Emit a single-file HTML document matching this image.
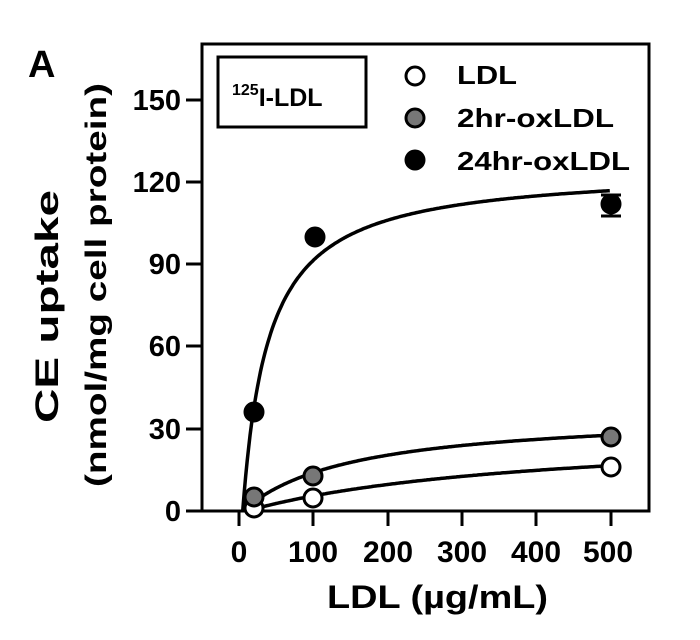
<!DOCTYPE html>
<html><head><meta charset="utf-8"><style>
body{margin:0;background:#fff;}
svg{display:block;font-family:"Liberation Sans",Arial,sans-serif;font-weight:bold;}
</style></head><body>
<svg id="s" width="700" height="640" viewBox="0 0 700 640">
<text x="28" y="77" font-size="38">A</text>
<rect x="202" y="44" width="447" height="467" fill="none" stroke="#000" stroke-width="3"/>
<g stroke="#000" stroke-width="3">
<line x1="186" y1="511" x2="202" y2="511"/><line x1="186" y1="429" x2="202" y2="429"/>
<line x1="186" y1="346" x2="202" y2="346"/><line x1="186" y1="264" x2="202" y2="264"/>
<line x1="186" y1="182" x2="202" y2="182"/><line x1="186" y1="100" x2="202" y2="100"/>
<line x1="239" y1="511" x2="239" y2="526"/><line x1="313" y1="511" x2="313" y2="526"/>
<line x1="388" y1="511" x2="388" y2="526"/><line x1="462" y1="511" x2="462" y2="526"/>
<line x1="536" y1="511" x2="536" y2="526"/><line x1="611" y1="511" x2="611" y2="526"/>
</g>
<g font-size="29" text-anchor="end">
<text x="181" y="521">0</text><text x="181" y="439">30</text><text x="181" y="356">60</text>
<text x="181" y="274">90</text><text x="181" y="192">120</text><text x="181" y="110">150</text>
</g>
<g font-size="30" text-anchor="middle">
<text x="239" y="562">0</text><text x="313" y="562">100</text><text x="388" y="562">200</text>
<text x="462" y="562">300</text><text x="536" y="562">400</text><text x="608" y="562">500</text>
</g>
<text x="327" y="608" font-size="32" textLength="221" lengthAdjust="spacingAndGlyphs">LDL (µg/mL)</text>
<text transform="translate(58,423) rotate(-90)" font-size="32" textLength="233" lengthAdjust="spacingAndGlyphs">CE uptake</text>
<text transform="translate(106,487) rotate(-90)" font-size="30" textLength="404" lengthAdjust="spacingAndGlyphs">(nmol/mg cell protein)</text>
<rect x="218" y="57" width="148" height="70" fill="none" stroke="#000" stroke-width="3"/>
<text x="232" y="106" font-size="25"><tspan font-size="16" dy="-11">125</tspan><tspan dy="11">I-LDL</tspan></text>
<circle cx="415" cy="76" r="9" fill="#fff" stroke="#000" stroke-width="3"/>
<circle cx="415" cy="118" r="9" fill="#777" stroke="#000" stroke-width="3"/>
<circle cx="415" cy="160" r="10.5" fill="#000"/>
<g font-size="26"><text x="457" y="84" textLength="60" lengthAdjust="spacingAndGlyphs">LDL</text><text x="457" y="127" textLength="157" lengthAdjust="spacingAndGlyphs">2hr-oxLDL</text><text x="457" y="170" textLength="173" lengthAdjust="spacingAndGlyphs">24hr-oxLDL</text></g>
<g id="curves" fill="none" stroke="#000" stroke-width="3.5"></g>
<g stroke="#000" stroke-width="3"><line x1="611" y1="195" x2="611" y2="216"/><line x1="601" y1="195" x2="621" y2="195"/><line x1="601" y1="216" x2="621" y2="216"/></g>
<g stroke="#000" stroke-width="3">
<circle cx="254" cy="508" r="9" fill="#fff"/><circle cx="313" cy="498" r="9" fill="#fff"/><circle cx="611" cy="467" r="9" fill="#fff"/>
<circle cx="254" cy="497" r="9" fill="#777"/><circle cx="313" cy="476" r="9" fill="#777"/><circle cx="611" cy="437" r="9" fill="#777"/>
<circle cx="254" cy="412" r="9" fill="#000"/><circle cx="315" cy="237" r="9" fill="#000"/><circle cx="611" cy="204" r="9" fill="#000"/>
</g>
</svg>
<script>
var g=document.getElementById('curves');
function c(B,K,x0){var d='';for(var v=x0;v<=500;v+=2){var y=B*(v-x0)/(K+v-x0);d+=(d?'L':'M')+(239+0.743*v).toFixed(1)+' '+(511-y*2.744).toFixed(1);}
var p=document.createElementNS('http://www.w3.org/2000/svg','path');p.setAttribute('d',d);g.appendChild(p);}
c(125,35,5);c(36,150,5);c(30,400,10);
</script>
</body></html>
